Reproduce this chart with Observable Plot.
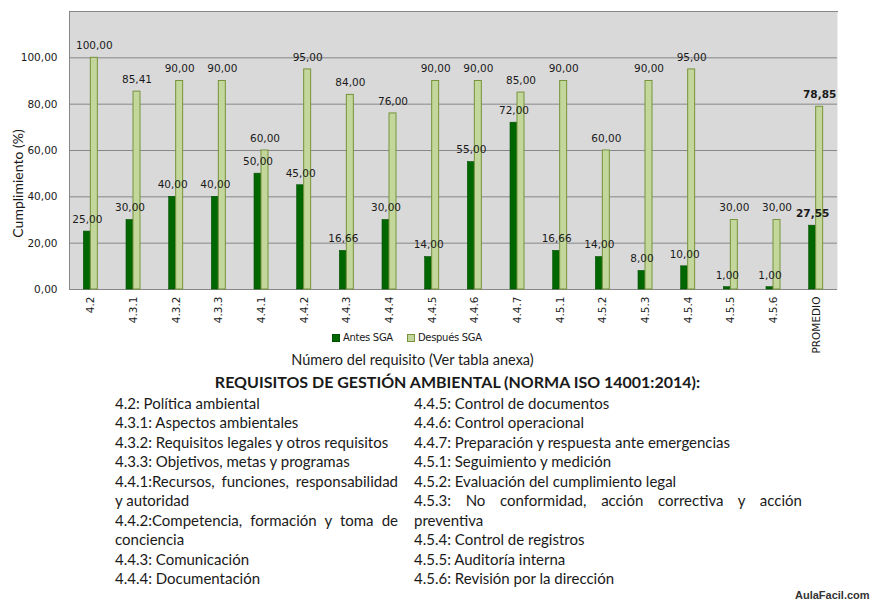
<!DOCTYPE html>
<html><head><meta charset="utf-8">
<script src="https://cdn.jsdelivr.net/npm/d3@7"></script>
<script src="https://cdn.jsdelivr.net/npm/@observablehq/plot@0.6"></script>
<style>
body{margin:0;background:#fff;}
#wrap{position:relative;width:875px;height:602px;overflow:hidden;font-family:"DejaVu Sans",sans-serif;color:#1a1a1a;}
#chart{position:absolute;left:0;top:0;}
.legend{position:absolute;top:332px;left:332px;font-size:10px;display:flex;gap:14px;align-items:center;letter-spacing:-0.3px;}
.legend span.sw{display:inline-block;width:8px;height:8px;margin-right:3px;vertical-align:-1px;box-sizing:border-box;}
.xtitle{position:absolute;top:351px;left:0;width:825px;text-align:center;font-family:Lato,sans-serif;font-size:14.5px;}
.ltitle{position:absolute;top:372px;left:0;width:915px;text-align:center;font-family:Lato,sans-serif;font-weight:bold;font-size:16px;}
.col{position:absolute;top:394px;font-family:Lato,sans-serif;font-size:15px;line-height:19.45px;}
.col div{white-space:nowrap;}
.col div.j{text-align:justify;text-align-last:justify;}
.wm{position:absolute;left:795px;top:589px;font-family:"Liberation Sans",sans-serif;font-weight:bold;font-size:11px;color:#333;}
</style></head><body><div id="wrap"></div>
<script>
const categories = ["4.2","4.3.1","4.3.2","4.3.3","4.4.1","4.4.2","4.4.3","4.4.4","4.4.5","4.4.6","4.4.7","4.5.1","4.5.2","4.5.3","4.5.4","4.5.5","4.5.6","PROMEDIO"];
const antes   = [25, 30, 40, 40, 50, 45, 16.66, 30, 14, 55, 72, 16.66, 14, 8, 10, 1, 1, 27.55];
const despues = [100, 85.41, 90, 90, 60, 95, 84, 76, 90, 90, 85, 90, 60, 90, 95, 30, 30, 78.85];
const seriesNames = ["Antes SGA", "Después SGA"];
const yTicks = [0, 20, 40, 60, 80, 100];
const yTitle = "Cumplimiento (%)";
const xTitle = "Número del requisito (Ver tabla anexa)";
const listTitle = "REQUISITOS DE GESTIÓN AMBIENTAL (NORMA ISO 14001:2014):";
const leftItems = [
  ["4.2: Política ambiental"],
  ["4.3.1: Aspectos ambientales"],
  ["4.3.2: Requisitos legales y otros requisitos"],
  ["4.3.3: Objetivos, metas y programas"],
  ["4.4.1:Recursos, funciones, responsabilidad", "y autoridad"],
  ["4.4.2:Competencia, formación y toma de", "conciencia"],
  ["4.4.3: Comunicación"],
  ["4.4.4: Documentación"]
];
const rightItems = [
  ["4.4.5: Control de documentos"],
  ["4.4.6: Control operacional"],
  ["4.4.7: Preparación y respuesta ante emergencias"],
  ["4.5.1: Seguimiento y medición"],
  ["4.5.2: Evaluación del cumplimiento legal"],
  ["4.5.3: No conformidad, acción correctiva y acción", "preventiva"],
  ["4.5.4: Control de registros"],
  ["4.5.5: Auditoría interna"],
  ["4.5.6: Revisión por la dirección"]
];
const watermark = "AulaFacil.com";

const colors = {antesFill: "#006600", antesStroke: "#005000", despFill: "#c3d69b", despStroke: "#77933c", bg: "#d9d9d9", grid: "#878787"};
const fmt = v => v.toFixed(2).replace(".", ",");
const A = categories.map((c, i) => ({cat: c, serie: seriesNames[0], v: antes[i]}));
const D = categories.map((c, i) => ({cat: c, serie: seriesNames[1], v: despues[i]}));
const last = categories[categories.length - 1];

const plot = Plot.plot({
  width: 875, height: 372,
  marginLeft: 69, marginRight: 38, marginTop: 11, marginBottom: 83,
  style: {fontFamily: "DejaVu Sans, sans-serif", fontSize: "10.5px", color: "#1a1a1a", background: "transparent", overflow: "visible"},
  x: {domain: categories, paddingInner: 0.672, paddingOuter: 0.336, round: false, label: null},
  y: {domain: [0, 120], label: null},
  marks: [
    Plot.frame({fill: colors.bg, stroke: null}),
    Plot.ruleY(yTicks.filter(t => t > 0), {stroke: colors.grid, strokeWidth: 1}),
    Plot.frame({anchor: "top", stroke: colors.grid}),
    Plot.frame({anchor: "left", stroke: colors.grid}),
    Plot.ruleY([0], {stroke: colors.grid}),
    Plot.barY(A, {x: "cat", y: "v", fill: colors.antesFill, stroke: colors.antesStroke, strokeWidth: 0.6, insetRight: 7}),
    Plot.barY(D, {x: "cat", y: "v", fill: colors.despFill, stroke: colors.despStroke, strokeWidth: 1, insetLeft: 7}),
    Plot.text(A, {filter: d => d.cat !== last, x: "cat", y: "v", text: d => fmt(d.v), dx: -3.5, dy: -12}),
    Plot.text(D, {filter: d => d.cat !== last, x: "cat", y: "v", text: d => fmt(d.v), dx: 3.5, dy: -12}),
    Plot.text(A, {filter: d => d.cat === last, x: "cat", y: "v", text: d => fmt(d.v), dx: -3.5, dy: -12, fontWeight: "bold"}),
    Plot.text(D, {filter: d => d.cat === last, x: "cat", y: "v", text: d => fmt(d.v), dx: 3.5, dy: -12, fontWeight: "bold"}),
    Plot.axisY({ticks: yTicks, tickFormat: fmt, tickSize: 0, tickPadding: 12, label: null}),
    Plot.axisX({tickRotate: -90, tickSize: 0, tickPadding: 7, label: null}),
    Plot.text([yTitle], {frameAnchor: "left", textAnchor: "middle", rotate: -90, dx: -51, dy: 33, fontSize: 14, fontFamily: "Lato, sans-serif"})
  ]
});
plot.id = "chart";
const wrap = document.getElementById("wrap");
wrap.appendChild(plot);

// legend
const lg = document.createElement("div");
lg.className = "legend";
lg.innerHTML = seriesNames.map((s, i) => `<div><span class="sw" style="background:${i ? colors.despFill : colors.antesFill};border:1px solid ${i ? colors.despStroke : colors.antesStroke}"></span>${s}</div>`).join("");
wrap.appendChild(lg);

const xt = document.createElement("div"); xt.className = "xtitle"; xt.textContent = xTitle; wrap.appendChild(xt);
const lt = document.createElement("div"); lt.className = "ltitle"; lt.textContent = listTitle; wrap.appendChild(lt);

function makeCol(items, left, width) {
  const c = document.createElement("div");
  c.className = "col"; c.style.left = left + "px"; c.style.width = width + "px";
  items.forEach(lines => lines.forEach((ln, k) => {
    const d = document.createElement("div");
    if (lines.length > 1 && k < lines.length - 1) d.className = "j";
    d.textContent = ln; c.appendChild(d);
  }));
  wrap.appendChild(c);
}
makeCol(leftItems, 115, 283);
makeCol(rightItems, 414, 388);
const wm = document.createElement("div"); wm.className = "wm"; wm.textContent = watermark; wrap.appendChild(wm);
</script></body></html>
